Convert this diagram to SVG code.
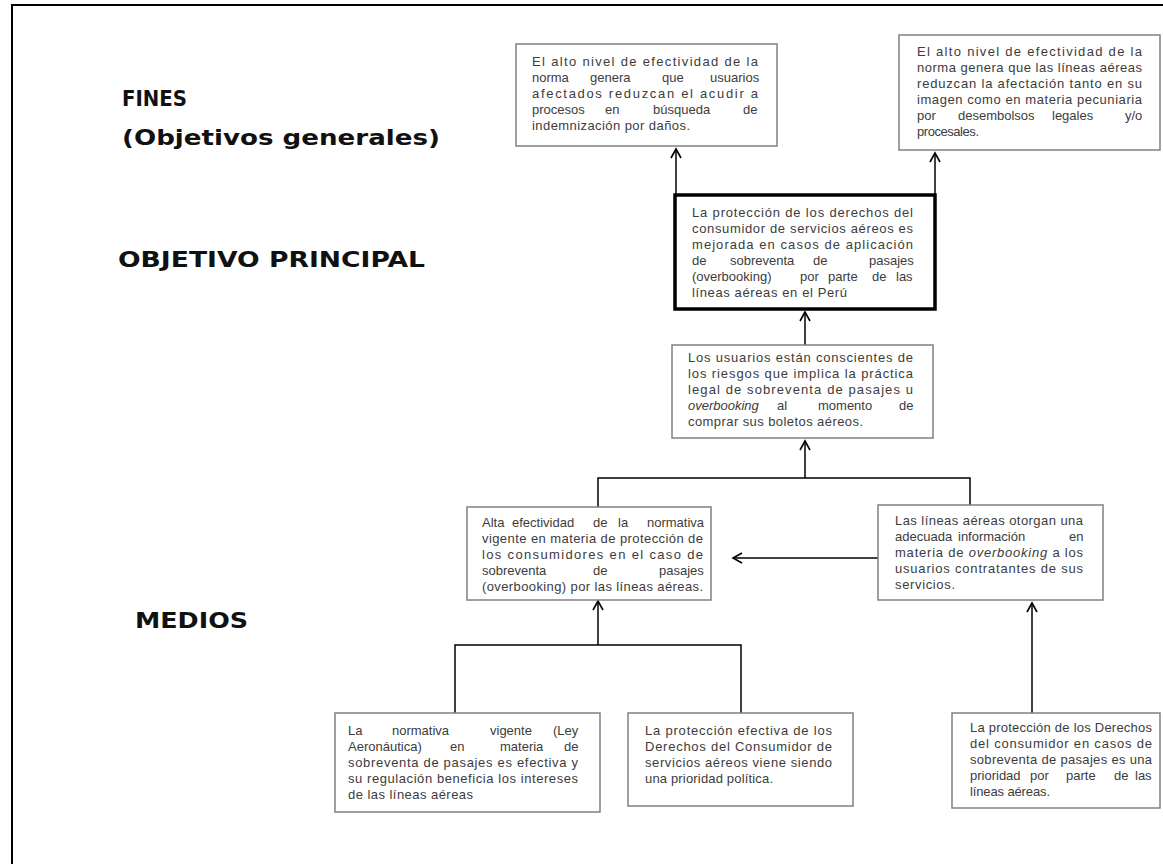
<svg xmlns="http://www.w3.org/2000/svg" width="1163" height="864" viewBox="0 0 1163 864">
<style>
.box{fill:#fff;stroke:#808080;stroke-width:1.5}
.main{fill:#fff;stroke:#000;stroke-width:3.5}
.t{font-family:"Liberation Sans",Arial,sans-serif;font-size:13px;fill:#3c3c3c}
.i{font-style:italic}
.lbl{font-family:"DejaVu Sans",sans-serif;font-weight:bold;font-size:22px;fill:#111}
.c{stroke:#000;stroke-width:1.5;fill:none}
.a{marker-end:url(#ah)}
</style>
<defs>
<marker id="ah" viewBox="-10 -6 12 12" refX="0" refY="0" markerWidth="12" markerHeight="12" orient="auto" markerUnits="userSpaceOnUse">
<path d="M-9,-5 L0,0 L-9,5" fill="none" stroke="#000" stroke-width="1.6"/>
</marker>
</defs>
<rect x="0" y="0" width="1163" height="864" fill="#fff"/>
<rect x="12" y="5" width="1160" height="870" fill="none" stroke="#000" stroke-width="2"/>

<g id="labels">
<text class="lbl" x="122" y="106" textLength="65" lengthAdjust="spacingAndGlyphs">FINES</text>
<text class="lbl" x="122" y="145" textLength="318" lengthAdjust="spacingAndGlyphs">(Objetivos generales)</text>
<text class="lbl" x="118" y="267" textLength="307" lengthAdjust="spacingAndGlyphs">OBJETIVO PRINCIPAL</text>
<text class="lbl" x="135" y="628" textLength="113" lengthAdjust="spacingAndGlyphs">MEDIOS</text>
</g>

<g id="connectors">
<path class="c a" d="M676,195 L676,149"/>
<path class="c a" d="M935,195 L935,153"/>
<path class="c a" d="M805,345 L805,312"/>
<path class="c" d="M598,507 L598,478 L970,478 L970,505"/>
<path class="c a" d="M805,478 L805,441"/>
<path class="c a" d="M878,558 L733,558"/>
<path class="c a" d="M1032,713 L1032,603"/>
<path class="c" d="M455,713 L455,645 L741,645 L741,713"/>
<path class="c a" d="M598,645 L598,601"/>
</g>

<g id="n-fin1">
<rect class="box" x="516" y="44" width="261" height="102"/>
<text class="t" x="532" y="65.5" textLength="226" lengthAdjust="spacing">El alto nivel de efectividad de la</text>
<text class="t" y="81.5"><tspan x="532">norma</tspan><tspan x="590">genera</tspan><tspan x="662">que</tspan><tspan x="710">usuarios</tspan></text>
<text class="t" x="532" y="97.5" textLength="226" lengthAdjust="spacing">afectados reduzcan el acudir a</text>
<text class="t" y="113.5"><tspan x="532">procesos</tspan><tspan x="605">en</tspan><tspan x="653">búsqueda</tspan><tspan x="743">de</tspan></text>
<text class="t" x="532" y="129.5" textLength="158" lengthAdjust="spacing">indemnización por daños.</text>
</g>

<g id="n-fin2">
<rect class="box" x="899" y="35" width="261" height="115"/>
<text class="t" x="917" y="56" textLength="225" lengthAdjust="spacing">El alto nivel de efectividad de la</text>
<text class="t" x="917" y="72" textLength="225" lengthAdjust="spacing">norma genera que las líneas aéreas</text>
<text class="t" x="917" y="88" textLength="225" lengthAdjust="spacing">reduzcan la afectación tanto en su</text>
<text class="t" x="917" y="104" textLength="225" lengthAdjust="spacing">imagen como en materia pecuniaria</text>
<text class="t" y="120"><tspan x="917">por</tspan><tspan x="958">desembolsos</tspan><tspan x="1052">legales</tspan><tspan x="1125">y/o</tspan></text>
<text class="t" x="917" y="136" textLength="62" lengthAdjust="spacing">procesales.</text>
</g>

<g id="n-main">
<rect class="main" x="675" y="195" width="260" height="114"/>
<text class="t" x="692" y="216.5" textLength="221" lengthAdjust="spacing">La protección de los derechos del</text>
<text class="t" x="692" y="232.5" textLength="221" lengthAdjust="spacing">consumidor de servicios aéreos es</text>
<text class="t" x="692" y="248.5" textLength="221" lengthAdjust="spacing">mejorada en casos de aplicación</text>
<text class="t" y="264.5"><tspan x="692">de</tspan><tspan x="730">sobreventa</tspan><tspan x="813">de</tspan><tspan x="869">pasajes</tspan></text>
<text class="t" y="280.5"><tspan x="692">(overbooking)</tspan><tspan x="800">por</tspan><tspan x="828">parte</tspan><tspan x="872">de</tspan><tspan x="896">las</tspan></text>
<text class="t" x="692" y="296.5" textLength="155" lengthAdjust="spacing">líneas aéreas en el Perú</text>
</g>

<g id="n-prop">
<rect class="box" x="672" y="345" width="261" height="93"/>
<text class="t" x="688" y="361.5" textLength="225" lengthAdjust="spacing">Los usuarios están conscientes de</text>
<text class="t" x="688" y="377.5" textLength="225" lengthAdjust="spacing">los riesgos que implica la práctica</text>
<text class="t" x="688" y="393.5" textLength="225" lengthAdjust="spacing">legal de sobreventa de pasajes u</text>
<text class="t" y="409.5"><tspan x="688" class="i">overbooking</tspan><tspan x="777">al</tspan><tspan x="818">momento</tspan><tspan x="899">de</tspan></text>
<text class="t" x="688" y="425.5" textLength="175" lengthAdjust="spacing">comprar sus boletos aéreos.</text>
</g>

<g id="n-m1">
<rect class="box" x="467" y="507" width="244" height="93"/>
<text class="t" y="526.5"><tspan x="482">Alta</tspan><tspan x="512">efectividad</tspan><tspan x="593">de</tspan><tspan x="618">la</tspan><tspan x="647">normativa</tspan></text>
<text class="t" x="482" y="542.5" textLength="221" lengthAdjust="spacing">vigente en materia de protección de</text>
<text class="t" x="482" y="558.5" textLength="221" lengthAdjust="spacing">los consumidores en el caso de</text>
<text class="t" y="574.5"><tspan x="482">sobreventa</tspan><tspan x="593">de</tspan><tspan x="659">pasajes</tspan></text>
<text class="t" x="482" y="590.5" textLength="221" lengthAdjust="spacing">(overbooking) por las líneas aéreas.</text>
</g>

<g id="n-m2">
<rect class="box" x="878" y="505" width="225" height="95"/>
<text class="t" x="895" y="524.5" textLength="188" lengthAdjust="spacing">Las líneas aéreas otorgan una</text>
<text class="t" y="540.5"><tspan x="895">adecuada</tspan><tspan x="958">información</tspan><tspan x="1069">en</tspan></text>
<text class="t" x="895" y="556.5" textLength="188" lengthAdjust="spacing">materia de <tspan class="i">overbooking</tspan> a los</text>
<text class="t" x="895" y="572.5" textLength="188" lengthAdjust="spacing">usuarios contratantes de sus</text>
<text class="t" x="895" y="588.5" textLength="60" lengthAdjust="spacing">servicios.</text>
</g>

<g id="n-b1">
<rect class="box" x="335" y="713" width="265" height="99"/>
<text class="t" y="734.5"><tspan x="348">La</tspan><tspan x="392">normativa</tspan><tspan x="490">vigente</tspan><tspan x="553">(Ley</tspan></text>
<text class="t" y="750.5"><tspan x="348">Aeronáutica)</tspan><tspan x="450">en</tspan><tspan x="500">materia</tspan><tspan x="564">de</tspan></text>
<text class="t" x="348" y="766.5" textLength="230" lengthAdjust="spacing">sobreventa de pasajes es efectiva y</text>
<text class="t" x="348" y="782.5" textLength="230" lengthAdjust="spacing">su regulación beneficia los intereses</text>
<text class="t" x="348" y="798.5" textLength="125" lengthAdjust="spacing">de las líneas aéreas</text>
</g>

<g id="n-b2">
<rect class="box" x="628" y="713" width="225" height="93"/>
<text class="t" x="645" y="734.5" textLength="187" lengthAdjust="spacing">La protección efectiva de los</text>
<text class="t" x="645" y="750.5" textLength="187" lengthAdjust="spacing">Derechos del Consumidor de</text>
<text class="t" x="645" y="766.5" textLength="187" lengthAdjust="spacing">servicios aéreos viene siendo</text>
<text class="t" x="645" y="782.5" textLength="128" lengthAdjust="spacing">una prioridad política.</text>
</g>

<g id="n-b3">
<rect class="box" x="952" y="713" width="208" height="95"/>
<text class="t" x="970" y="731.5" textLength="182" lengthAdjust="spacing">La protección de los Derechos</text>
<text class="t" x="970" y="747.5" textLength="182" lengthAdjust="spacing">del consumidor en casos de</text>
<text class="t" x="970" y="763.5" textLength="182" lengthAdjust="spacing">sobreventa de pasajes es una</text>
<text class="t" y="779.5"><tspan x="970">prioridad</tspan><tspan x="1030">por</tspan><tspan x="1066">parte</tspan><tspan x="1114">de</tspan><tspan x="1135">las</tspan></text>
<text class="t" x="970" y="795.5" textLength="80" lengthAdjust="spacing">líneas aéreas.</text>
</g>
</svg>
